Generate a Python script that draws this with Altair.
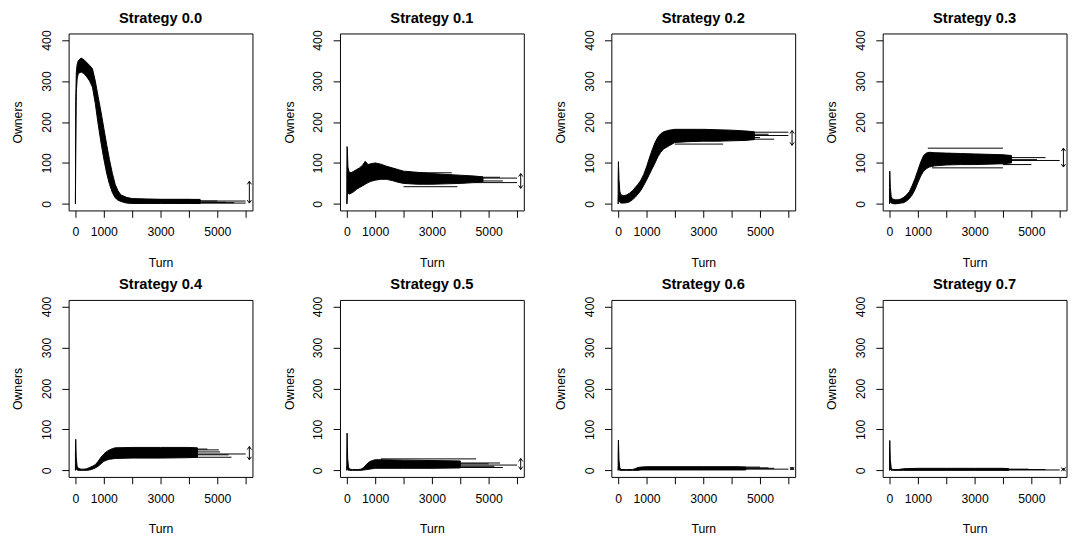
import altair as alt
import pandas as pd

FONT = "Liberation Sans"

STRATEGIES = ["0.0", "0.1", "0.2", "0.3", "0.4", "0.5", "0.6", "0.7"]

X_TICKS = [0, 1000, 2000, 3000, 4000, 5000, 6000]
X_LABELED = [0, 1000, 3000, 5000]
Y_TICKS = [0, 100, 200, 300, 400]
ARROW_TURN = 6130

# ---- Strategy 0.0 : envelope of all runs, tails of runs, final-range arrow
S0_TURN = [0, 10, 30, 60, 100, 200, 300, 400, 500, 600, 700, 800, 900, 1000, 1100, 1200, 1300, 1400, 1500, 1600, 1800, 2000, 2500, 3000, 3500, 4000, 4400]
S0_LOW = [0, 120, 270, 305, 318, 322, 318, 310, 300, 285, 245, 195, 150, 110, 75, 48, 28, 15, 9, 6, 2, 1, 1, 1, 1, 1, 1]
S0_HIGH = [10, 250, 320, 340, 350, 356, 352, 345, 338, 330, 300, 262, 225, 185, 145, 108, 75, 48, 32, 22, 16, 13, 12, 11, 11, 11, 10]
S0_TAIL_START = [2000, 2500, 3000, 3500, 3500, 4000]
S0_TAIL_END = [4400, 5000, 5300, 5600, 6000, 6000]
S0_TAIL_VAL = [11, 7, 4, 3, 7, 2]
S0_ARROW = [2, 55]

# ---- Strategy 0.1
S1_TURN = [0, 8, 20, 40, 80, 150, 250, 350, 450, 550, 650, 750, 850, 1000, 1200, 1400, 1600, 1800, 2000, 2500, 3000, 3500, 4000, 4500, 4800]
S1_LOW = [0, 0, 20, 28, 24, 26, 30, 36, 40, 44, 48, 52, 55, 58, 60, 60, 57, 53, 50, 48, 48, 49, 50, 52, 54]
S1_HIGH = [60, 140, 135, 90, 78, 76, 80, 84, 88, 94, 104, 96, 98, 100, 97, 92, 88, 84, 80, 77, 74, 72, 70, 68, 66]
S1_TAIL_START = [2000, 2300, 4500, 4500, 4500, 4500]
S1_TAIL_END = [3900, 3700, 5400, 5500, 6000, 6000]
S1_TAIL_VAL = [42, 76, 65, 56, 63, 52]
S1_ARROW = [38, 74]

# ---- Strategy 0.2
S2_TURN = [0, 10, 30, 60, 100, 200, 300, 400, 500, 600, 700, 800, 900, 1000, 1100, 1200, 1300, 1400, 1500, 1600, 1800, 2000, 2500, 3000, 3500, 4000, 4500, 4800]
S2_LOW = [0, 20, 8, 4, 2, 2, 3, 5, 10, 16, 24, 33, 45, 58, 72, 86, 100, 115, 126, 134, 142, 150, 152, 153, 153, 154, 155, 157]
S2_HIGH = [60, 103, 60, 30, 22, 20, 22, 26, 32, 40, 48, 58, 72, 90, 112, 132, 150, 163, 171, 176, 180, 182, 182, 182, 181, 180, 178, 176]
S2_TAIL_START = [2000, 4500, 4500, 4500, 4500, 4500]
S2_TAIL_END = [3700, 5000, 5300, 5500, 6000, 6000]
S2_TAIL_VAL = [146, 162, 170, 158, 175, 167]
S2_ARROW = [143, 179]

# ---- Strategy 0.3
S3_TURN = [0, 10, 30, 60, 100, 200, 300, 400, 500, 600, 700, 800, 900, 1000, 1100, 1200, 1300, 1400, 1600, 2000, 2500, 3000, 3500, 4000, 4300]
S3_LOW = [0, 10, 5, 2, 1, 0, 1, 2, 3, 7, 13, 22, 35, 52, 68, 80, 86, 90, 93, 95, 96, 96, 97, 98, 100]
S3_HIGH = [40, 80, 40, 18, 12, 10, 10, 12, 16, 22, 30, 45, 62, 82, 102, 118, 124, 126, 125, 124, 123, 122, 121, 120, 118]
S3_TAIL_START = [1350, 1500, 4000, 4000, 4000, 4000, 4000]
S3_TAIL_END = [4000, 4000, 4200, 5000, 5200, 5500, 6000]
S3_TAIL_VAL = [136, 88, 118, 96, 108, 113, 106]
S3_ARROW = [90, 136]

# ---- Strategy 0.4
S4_TURN = [0, 10, 30, 60, 100, 200, 300, 400, 500, 600, 700, 800, 900, 1000, 1100, 1200, 1300, 1400, 2000, 3000, 4000, 4300]
S4_LOW = [0, 15, 3, 1, 0, 0, 0, 0, 1, 3, 6, 10, 16, 22, 25, 27, 28, 29, 30, 30, 31, 32]
S4_HIGH = [40, 76, 30, 10, 5, 3, 3, 4, 7, 10, 14, 22, 32, 40, 46, 50, 53, 55, 56, 56, 56, 55]
S4_TAIL_START = [4000, 4000, 4000, 4000, 4000, 4000]
S4_TAIL_END = [4650, 5050, 5100, 5400, 5500, 6000]
S4_TAIL_VAL = [52, 50, 45, 38, 32, 40]
S4_ARROW = [26, 58]

# ---- Strategy 0.5
S5_TURN = [0, 10, 30, 60, 100, 200, 300, 400, 500, 600, 700, 800, 900, 1000, 1200, 2000, 3000, 4000]
S5_LOW = [0, 10, 2, 0, 0, 0, 0, 0, 0, 1, 2, 3, 4, 5, 5, 5, 5, 6]
S5_HIGH = [40, 91, 30, 8, 3, 2, 2, 2, 3, 7, 15, 21, 24, 26, 26, 25, 24, 23]
S5_TAIL_START = [1200, 3500, 3500, 3500, 3500, 3500]
S5_TAIL_END = [4560, 5000, 5200, 5400, 5500, 6000]
S5_TAIL_VAL = [28, 16, 10, 18, 7, 13]
S5_ARROW = [2, 29]

# ---- Strategy 0.6
S6_TURN = [0, 10, 30, 60, 100, 300, 500, 600, 700, 800, 1000, 2000, 3000, 4000, 4500]
S6_LOW = [0, 10, 2, 0, 0, 0, 0, 0, 0, 1, 1, 1, 1, 1, 1]
S6_HIGH = [40, 74, 25, 6, 2, 2, 2, 4, 7, 8, 9, 9, 9, 9, 8]
S6_TAIL_START = [4000, 4000, 4000, 4000]
S6_TAIL_END = [5000, 5300, 5500, 6000]
S6_TAIL_VAL = [8, 6, 5, 3]
S6_ARROW = [1, 8]

# ---- Strategy 0.7
S7_TURN = [0, 10, 30, 60, 100, 300, 500, 1000, 2000, 3000, 4000, 4200]
S7_LOW = [0, 10, 2, 0, 0, 0, 0, 0, 0, 0, 0, 0]
S7_HIGH = [40, 73, 25, 6, 2, 2, 4, 5, 5, 5, 5, 4]
S7_TAIL_START = [4000, 4000, 4000]
S7_TAIL_END = [4900, 5500, 6000]
S7_TAIL_VAL = [3, 2, 1]
S7_ARROW = [0, 5]

PANELS = [
    (S0_TURN, S0_LOW, S0_HIGH, S0_TAIL_START, S0_TAIL_END, S0_TAIL_VAL, S0_ARROW),
    (S1_TURN, S1_LOW, S1_HIGH, S1_TAIL_START, S1_TAIL_END, S1_TAIL_VAL, S1_ARROW),
    (S2_TURN, S2_LOW, S2_HIGH, S2_TAIL_START, S2_TAIL_END, S2_TAIL_VAL, S2_ARROW),
    (S3_TURN, S3_LOW, S3_HIGH, S3_TAIL_START, S3_TAIL_END, S3_TAIL_VAL, S3_ARROW),
    (S4_TURN, S4_LOW, S4_HIGH, S4_TAIL_START, S4_TAIL_END, S4_TAIL_VAL, S4_ARROW),
    (S5_TURN, S5_LOW, S5_HIGH, S5_TAIL_START, S5_TAIL_END, S5_TAIL_VAL, S5_ARROW),
    (S6_TURN, S6_LOW, S6_HIGH, S6_TAIL_START, S6_TAIL_END, S6_TAIL_VAL, S6_ARROW),
    (S7_TURN, S7_LOW, S7_HIGH, S7_TAIL_START, S7_TAIL_END, S7_TAIL_VAL, S7_ARROW),
]

W, H = 188, 181

XS = alt.Scale(domain=[-240, 6240], nice=False, zero=False)
YS = alt.Scale(domain=[-16, 416], nice=False, zero=False)

label_expr = "indexof([" + ",".join(str(v) for v in X_LABELED) + "], datum.value) >= 0 ? datum.label : ''"

XA = alt.Axis(
    title="Turn", values=X_TICKS, format="d", labelExpr=label_expr,
    labelOverlap=False, labelFlush=False, labelBaseline="middle", labelPadding=15,
    tickSize=7, tickColor="black", tickWidth=1, grid=False, domain=False,
    labelFont=FONT, labelFontSize=12.5, labelColor="black",
    titleFont=FONT, titleFontSize=12.5, titleFontWeight="normal", titleColor="black",
    titleX=W / 2, titleY=53, titleAlign="center", titleBaseline="middle",
)
YA = alt.Axis(
    title="Owners", values=Y_TICKS, format="d", labelAngle=270,
    labelAlign="center", labelBaseline="middle", labelPadding=15.5,
    labelOverlap=False, labelFlush=False,
    tickSize=7, tickColor="black", tickWidth=1, grid=False, domain=False,
    labelFont=FONT, labelFontSize=12.5, labelColor="black",
    titleFont=FONT, titleFontSize=12.5, titleFontWeight="normal", titleColor="black",
    titleX=-52, titleY=H / 2, titleAngle=270, titleAlign="center", titleBaseline="middle",
)

HEAD_UP = "M-0.7,1L0,0L0.7,1"
HEAD_DN = "M-0.7,-1L0,0L0.7,-1"


def make_panel(name, turn, low, high, t_start, t_end, t_val, arrow):
    env = pd.DataFrame({"turn": turn, "low": low, "high": high})
    rows = []
    for i, (a, b, v) in enumerate(zip(t_start, t_end, t_val)):
        rows.append({"run": i, "turn": a, "val": v})
        rows.append({"run": i, "turn": b, "val": v})
    tails = pd.DataFrame(rows)
    arr = pd.DataFrame({"turn": [ARROW_TURN], "lo": [arrow[0]], "hi": [arrow[1]]})

    x = alt.X("turn:Q", scale=XS, axis=XA)
    area = alt.Chart(env).mark_area(color="black", stroke="black", strokeWidth=1).encode(
        x=x, y=alt.Y("low:Q", scale=YS, axis=YA), y2="high:Q")
    lines = alt.Chart(tails).mark_line(color="black", strokeWidth=1).encode(
        x=x, y=alt.Y("val:Q", scale=YS, axis=YA), detail="run:N")
    shaft = alt.Chart(arr).mark_rule(color="black", strokeWidth=1).encode(
        x=x, y=alt.Y("lo:Q", scale=YS, axis=YA), y2="hi:Q")
    head_up = alt.Chart(arr).mark_point(shape=HEAD_UP, size=36, filled=False, color="black",
                                        strokeWidth=1, opacity=1).encode(
        x=x, y=alt.Y("hi:Q", scale=YS, axis=YA))
    head_dn = alt.Chart(arr).mark_point(shape=HEAD_DN, size=36, filled=False, color="black",
                                        strokeWidth=1, opacity=1).encode(
        x=x, y=alt.Y("lo:Q", scale=YS, axis=YA))
    return alt.layer(area, lines, shaft, head_up, head_dn).properties(
        width=W, height=H,
        title=alt.TitleParams(
            f"Strategy {name}", font=FONT, fontSize=15, fontWeight="bold", color="black",
            anchor="middle", frame="group", baseline="alphabetic", offset=-8),
    )


panels = [make_panel(name, *p) for name, p in zip(STRATEGIES, PANELS)]

chart = alt.concat(
    *panels, columns=4, spacing={"row": 91.5, "column": 89.5}, bounds="flush"
).properties(
    padding={"left": 3, "top": -4, "right": 0, "bottom": 0}
).configure_view(stroke="black", strokeWidth=1)

chart.save("out.html", embed_options={"renderer": "svg", "actions": False})
